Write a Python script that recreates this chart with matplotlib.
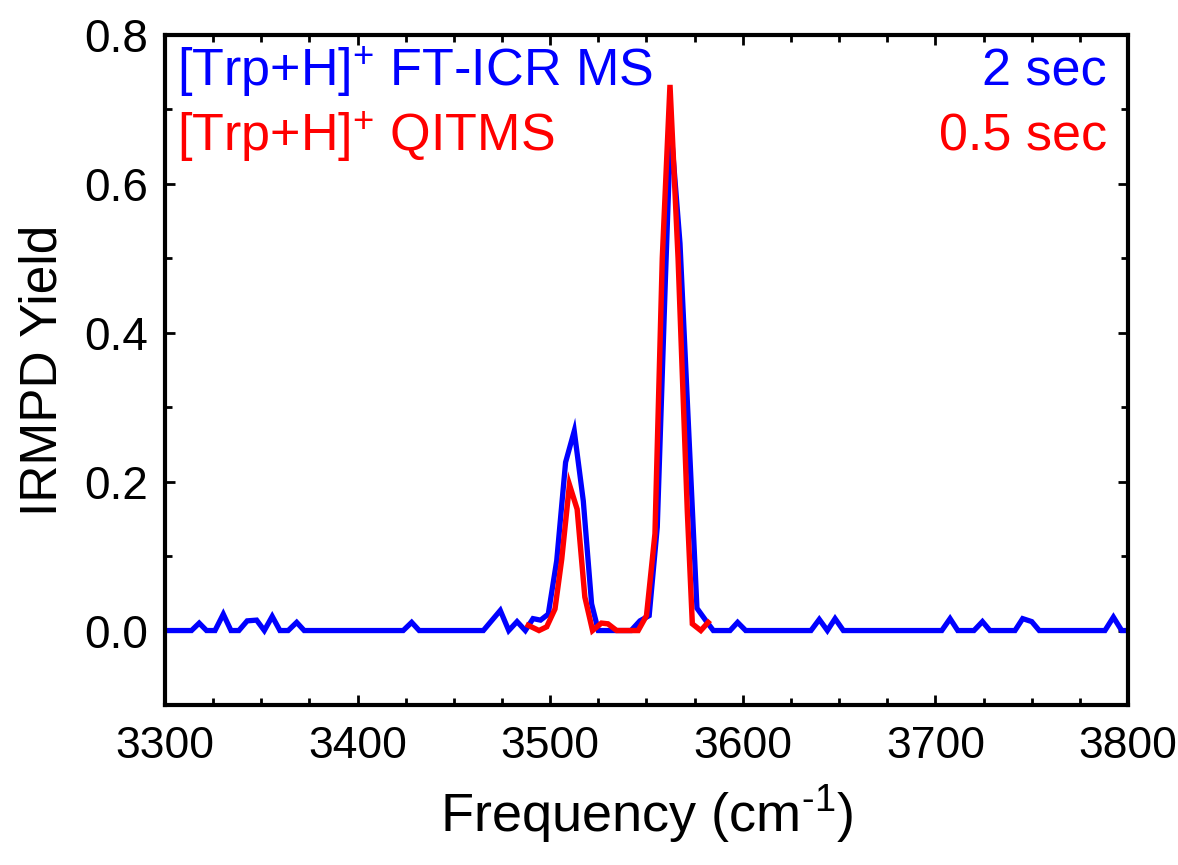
import matplotlib
matplotlib.use("Agg")
import matplotlib.pyplot as plt
from matplotlib.ticker import MultipleLocator, FormatStrFormatter
from matplotlib import font_manager

# ---------------- data ----------------
ftir_x = [3300, 3313.8, 3317.8, 3321.6, 3326, 3330.3, 3334.3, 3338.4, 3342.7, 3347.6,
          3351.6, 3355.7, 3359.7, 3364, 3368.4, 3372.3, 3423.7, 3428.1, 3432, 3465.3,
          3474.1, 3478.5, 3482.8, 3487.1, 3491.1, 3495, 3499, 3503.4, 3508, 3512.5,
          3517.2, 3521.5, 3525, 3542, 3546.6, 3551.4, 3555.6, 3559.8, 3562.6, 3567.4,
          3576.2, 3581.2, 3584.7, 3593.4, 3597.3, 3601.5, 3635.4, 3639.7, 3643.9, 3647.9,
          3652.2, 3703.3, 3707.6, 3711.6, 3720, 3724.4, 3728.3, 3741.3, 3745.3, 3750,
          3753.9, 3788, 3792.4, 3796.7, 3800]
ftir_y = [0, 0, 0.010, 0, 0, 0.022, 0, 0, 0.013, 0.014,
          0, 0.019, 0, 0, 0.011, 0, 0, 0.011, 0, 0,
          0.027, 0, 0.012, 0, 0.016, 0.014, 0.022, 0.094, 0.226, 0.268,
          0.174, 0.036, 0, 0, 0.013, 0.020, 0.139, 0.47, 0.677, 0.52,
          0.030, 0.012, 0, 0, 0.011, 0, 0, 0.015, 0, 0.016,
          0, 0, 0.016, 0, 0, 0.012, 0, 0, 0.016, 0.012,
          0, 0, 0.018, 0, 0]

qit_x = [3488.6, 3494.2, 3498.2, 3502.5, 3506, 3510, 3514, 3518, 3522, 3526.6,
         3530, 3534.5, 3545.7, 3550, 3554.4, 3558.2, 3562.2, 3566.4, 3571.2, 3573.8,
         3578.2, 3582]
qit_y = [0.007, 0, 0.005, 0.029, 0.096, 0.196, 0.163, 0.045, 0, 0.010,
         0.009, 0, 0, 0.020, 0.130, 0.50, 0.733, 0.50, 0.16, 0.009,
         0, 0.011]

label_ftir = "[Trp+H]$^{+}$ FT-ICR MS"
label_qit = "[Trp+H]$^{+}$ QITMS"
time_ftir = "2 sec"
time_qit = "0.5 sec"

# ---------------- style ----------------
names = {f.name for f in font_manager.fontManager.ttflist}
base = "Liberation Sans" if "Liberation Sans" in names else "DejaVu Sans"

plt.rcParams['font.family'] = [base, 'DejaVu Sans']
plt.rcParams['mathtext.fontset'] = 'custom'
plt.rcParams['mathtext.rm'] = base
plt.rcParams['mathtext.it'] = base

fig = plt.figure(figsize=(11.78, 8.65), dpi=100)
ax = fig.add_axes([0.140, 0.185, 0.8176, 0.7745])

ax.plot(ftir_x, ftir_y, color='#0000FF', lw=3.8, solid_joinstyle='miter', zorder=2)
ax.plot(qit_x, qit_y, color='#FF0000', lw=3.9, solid_joinstyle='miter', zorder=3)

ax.set_xlim(3300, 3800)
ax.set_ylim(-0.1, 0.8)

ax.xaxis.set_major_locator(MultipleLocator(100))
ax.xaxis.set_minor_locator(MultipleLocator(25))
ax.yaxis.set_major_locator(MultipleLocator(0.2))
ax.yaxis.set_minor_locator(MultipleLocator(0.1))
ax.yaxis.set_major_formatter(FormatStrFormatter('%.1f'))

for s in ax.spines.values():
    s.set_linewidth(3)

ax.tick_params(which='both', direction='in', top=True, right=True, width=2)
ax.tick_params(which='major', length=7.5)
ax.tick_params(which='minor', length=5)
ax.tick_params(axis='y', which='major', labelsize=33, pad=12)
ax.tick_params(axis='x', which='major', labelsize=32, pad=15)

ax.set_xlabel("Frequency (cm$^{\\text{-}1}$)", fontsize=39, labelpad=12)
ax.set_ylabel("IRMPD Yield", fontsize=37, labelpad=12)

ax.text(0.013, 0.945, label_ftir, transform=ax.transAxes, color='#0000FF',
        fontsize=37.5, ha='left', va='center')
ax.text(0.013, 0.848, label_qit, transform=ax.transAxes, color='#FF0000',
        fontsize=37.5, ha='left', va='center')
ax.text(0.978, 0.945, time_ftir, transform=ax.transAxes, color='#0000FF',
        fontsize=37.5, ha='right', va='center')
ax.text(0.978, 0.848, time_qit, transform=ax.transAxes, color='#FF0000',
        fontsize=37.5, ha='right', va='center')

fig.savefig("out.png", dpi=100)
